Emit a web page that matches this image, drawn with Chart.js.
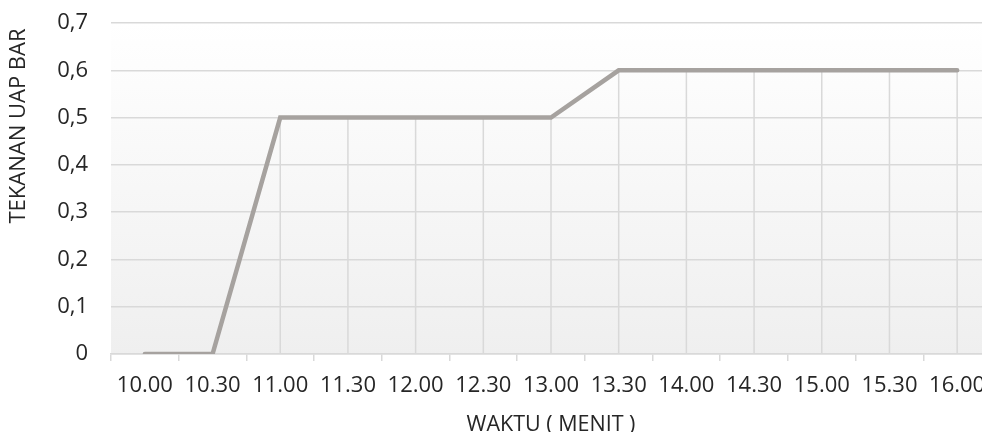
<!DOCTYPE html>
<html>
<head>
<meta charset="utf-8">
<script src="https://cdn.jsdelivr.net/npm/chart.js@4/dist/chart.umd.min.js"></script>
<style>
  html, body { margin: 0; padding: 0; background: #fff; overflow: hidden; }
  #wrap { width: 1000px; height: 432px; }
</style>
</head>
<body>
<div id="wrap"><canvas id="chart" width="1000" height="432"></canvas></div>
<script>
const waktu = ['10.00', '10.30', '11.00', '11.30', '12.00', '12.30', '13.00',
               '13.30', '14.00', '14.30', '15.00', '15.30', '16.00'];
const tekanan = [0, 0, 0.5, 0.5, 0.5, 0.5, 0.5, 0.6, 0.6, 0.6, 0.6, 0.6, 0.6];
const yTicks = [0, 0.1, 0.2, 0.3, 0.4, 0.5, 0.6, 0.7];
const yTitle = 'TEKANAN UAP BAR';

const textColor = '#262626';
const gridColor = '#d9d9d9';

// plot area background: white at top, light grey at bottom
const plotBackground = {
    id: 'plotBackground',
    beforeDraw(chart) {
        const { ctx, chartArea: a } = chart;
        const g = ctx.createLinearGradient(0, a.top, 0, a.bottom);
        g.addColorStop(0, '#ffffff');
        g.addColorStop(1, '#efefef');
        ctx.save();
        ctx.fillStyle = g;
        ctx.fillRect(a.left, a.top, a.right - a.left, a.bottom - a.top);
        ctx.restore();
    }
};

// drop lines from each point down to the x axis
const dropLines = {
    id: 'dropLines',
    beforeDatasetsDraw(chart) {
        const { ctx, scales } = chart;
        const meta = chart.getDatasetMeta(0);
        const base = scales.y.getPixelForValue(0);
        ctx.save();
        ctx.strokeStyle = gridColor;
        ctx.lineWidth = 1.5;
        meta.data.forEach(pt => {
            ctx.beginPath();
            ctx.moveTo(pt.x, pt.y);
            ctx.lineTo(pt.x, base);
            ctx.stroke();
        });
        ctx.restore();
    }
};

// vertical axis title, sitting in the upper half like the original
const yAxisTitle = {
    id: 'yAxisTitle',
    afterDraw(chart) {
        const { ctx } = chart;
        ctx.save();
        ctx.translate(19, 126);
        ctx.rotate(-Math.PI / 2);
        ctx.font = '22px "Open Sans"';
        ctx.fillStyle = textColor;
        ctx.textAlign = 'center';
        ctx.textBaseline = 'middle';
        ctx.fillText(yTitle, 0, 0);
        ctx.restore();
    }
};

const ctx = document.getElementById('chart').getContext('2d');
new Chart(ctx, {
    type: 'line',
    data: {
        labels: waktu,
        datasets: [{
            label: 'Tekanan uap',
            data: tekanan,
            borderColor: '#a6a29f',
            borderWidth: 4.5,
            borderCapStyle: 'round',
            borderJoinStyle: 'miter',
            pointRadius: 0,
            tension: 0,
            fill: false
        }]
    },
    options: {
        responsive: false,
        animation: false,
        layout: { padding: { top: 23, right: 9, left: 0, bottom: 0 } },
        plugins: {
            legend: { display: false },
            tooltip: { enabled: false }
        },
        scales: {
            x: {
                offset: true,
                grid: {
                    offset: true,
                    drawOnChartArea: false,
                    drawTicks: true,
                    tickLength: 7,
                    color: gridColor,
                    lineWidth: 1.5
                },
                border: { display: true, color: gridColor, width: 1.5 },
                ticks: {
                    color: textColor,
                    padding: 12,
                    maxRotation: 0,
                    autoSkip: false,
                    font: { family: 'Open Sans', size: 22 }
                },
                title: {
                    display: true,
                    text: 'WAKTU ( MENIT )',
                    color: textColor,
                    padding: { top: 4, bottom: -6 },
                    font: { family: 'Open Sans', size: 21.5 }
                },
                afterFit(scale) { scale.height = 78; }
            },
            y: {
                min: 0,
                max: 0.7,
                afterBuildTicks(scale) {
                    scale.ticks = yTicks.map(v => ({ value: v }));
                },
                grid: {
                    color: gridColor,
                    lineWidth: 1.5,
                    drawTicks: false
                },
                border: { display: false },
                ticks: {
                    color: textColor,
                    padding: 23,
                    font: { family: 'Open Sans', size: 22 },
                    callback: v => String(v).replace('.', ',')
                },
                afterFit(scale) {
                    scale.width = 111;
                    scale.paddingTop = 0;
                    scale.paddingBottom = 0;
                }
            }
        }
    },
    plugins: [plotBackground, dropLines, yAxisTitle]
});
</script>
</body>
</html>
